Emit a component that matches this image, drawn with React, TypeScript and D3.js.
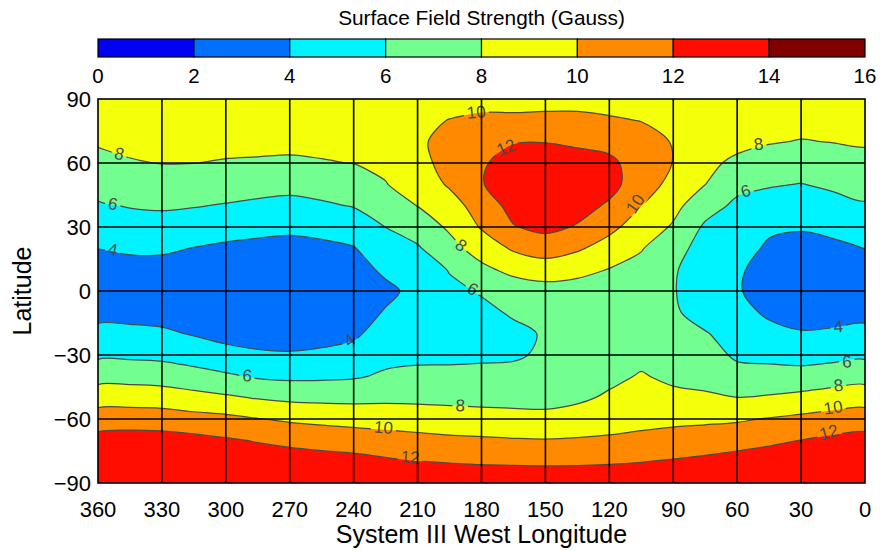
import React, { useEffect, useRef } from "react";
import * as d3 from "d3";

// grid of the field: System III west longitude (columns) and latitude (rows)
const lons = [360, 345, 330, 315, 300, 285, 270, 255, 240, 225, 210, 195, 180, 165, 150, 135, 120, 105, 90, 75, 60, 45, 30, 15, 0];
const lats = [90, 80, 70, 60, 50, 40, 30, 20, 10, 0, -10, -20, -30, -40, -50, -60, -70, -80, -90];

// surface field strength in gauss, one row per latitude
const field = [
  [9.3, 9.3, 9.3, 9.3, 9.3, 9.3, 9.3, 9.3, 9.3, 9.3, 9.3, 9.3, 9.3, 9.3, 9.3, 9.3, 9.3, 9.3, 9.3, 9.3, 9.3, 9.3, 9.3, 9.3, 9.3],
  [8.7, 8.85, 8.88, 8.85, 8.85, 8.83, 8.81, 8.83, 8.88, 8.98, 9.55, 10.05, 10.4, 10.4, 10.5, 10.5, 10.2, 9.95, 9.55, 9.1, 8.78, 8.71, 8.62, 8.65, 8.7],
  [8.2, 8.39, 8.46, 8.44, 8.4, 8.37, 8.32, 8.4, 8.45, 8.64, 9.75, 10.5, 11.2, 11.9, 11.95, 11.75, 11.5, 10.7, 9.9, 8.75, 8.4, 8.12, 7.92, 8.05, 8.2],
  [7.45, 7.88, 8.04, 8.02, 7.9, 7.85, 7.8, 7.9, 8.03, 8.31, 9.45, 10.6, 11.8, 12.7, 12.9, 12.6, 12.35, 11.25, 9.95, 8.35, 7.7, 7.18, 6.94, 7.2, 7.45],
  [6.64, 6.99, 7.16, 7.06, 6.9, 6.72, 6.57, 6.8, 7.08, 7.94, 8.75, 10.25, 11.9, 13.0, 13.35, 13.05, 12.6, 11.0, 9.4, 8.02, 6.53, 6.15, 5.95, 6.31, 6.64],
  [5.82, 6.1, 6.23, 6.1, 5.88, 5.64, 5.46, 5.74, 6.1, 6.97, 8.04, 9.1, 11.0, 12.6, 13.2, 12.7, 11.75, 10.02, 8.55, 6.82, 5.6, 5.23, 5.04, 5.4, 5.82],
  [4.91, 5.19, 5.26, 5.04, 4.7, 4.49, 4.32, 4.56, 5.0, 6.02, 6.85, 8.3, 10.17, 11.9, 12.5, 11.85, 10.5, 9.05, 7.8, 5.7, 5.3, 4.32, 4.13, 4.47, 4.91],
  [4.02, 4.26, 4.27, 3.95, 3.7, 3.55, 3.5, 3.6, 3.9, 5.17, 5.8, 7.33, 8.89, 10.25, 10.86, 10.25, 9.2, 8.1, 6.9, 5.05, 4.8, 3.7, 3.5, 3.6, 4.02],
  [3.4, 3.4, 3.4, 3.2, 3.1, 3.0, 3.0, 3.1, 3.3, 4.33, 5.0, 6.1, 7.53, 8.56, 9.03, 8.65, 7.92, 7.5, 6.25, 4.7, 4.25, 3.3, 3.15, 3.2, 3.4],
  [3.1, 3.05, 3.0, 2.9, 2.8, 2.7, 2.7, 2.8, 3.0, 3.6, 4.5, 5.6, 6.15, 6.86, 7.2, 7.05, 7.3, 7.1, 6.15, 4.65, 4.15, 3.25, 3.1, 3.05, 3.1],
  [3.5, 3.4, 3.3, 3.1, 2.9, 2.8, 2.8, 2.9, 3.2, 4.13, 4.4, 5.3, 5.6, 6.2, 6.8, 6.85, 7.0, 6.95, 6.3, 5.1, 4.6, 3.7, 3.4, 3.4, 3.5],
  [4.47, 4.47, 4.31, 3.87, 3.4, 3.3, 3.3, 3.4, 3.7, 4.8, 4.75, 5.3, 5.4, 5.6, 6.15, 6.75, 6.95, 7.05, 6.7, 6.15, 5.1, 4.54, 4.12, 4.24, 4.47],
  [5.65, 5.64, 5.53, 5.15, 4.64, 4.25, 4.15, 4.31, 4.65, 5.47, 5.55, 5.7, 5.75, 5.75, 6.3, 6.95, 7.1, 7.5, 7.1, 6.9, 5.65, 5.5, 5.3, 5.45, 5.65],
  [7.27, 7.27, 7.13, 6.7, 6.29, 5.78, 5.6, 5.66, 5.8, 6.26, 6.49, 6.35, 6.4, 6.6, 6.85, 7.3, 7.55, 8.15, 7.6, 7.4, 6.77, 6.71, 6.71, 7.0, 7.27],
  [9.14, 9.14, 9.04, 8.66, 8.29, 7.87, 7.59, 7.48, 7.47, 7.56, 7.57, 7.5, 7.4, 7.4, 7.4, 7.65, 8.27, 8.84, 8.47, 8.27, 8.02, 8.19, 8.51, 8.9, 9.14],
  [10.96, 11.03, 10.96, 10.69, 10.48, 10.07, 9.72, 9.49, 9.32, 9.17, 9.0, 8.85, 8.75, 8.6, 8.5, 8.84, 9.21, 9.4, 9.53, 9.62, 9.77, 10.11, 10.43, 10.75, 10.96],
  [12.7, 12.9, 12.81, 12.56, 12.21, 11.89, 11.55, 11.25, 11.03, 10.8, 10.58, 10.38, 10.26, 10.15, 10.09, 10.16, 10.27, 10.5, 10.78, 11.01, 11.27, 11.63, 12.03, 12.42, 12.7],
  [13.0, 13.05, 13.0, 12.95, 12.8, 12.9, 12.9, 12.8, 12.64, 12.3, 12.04, 11.92, 11.8, 11.75, 11.7, 11.73, 11.83, 11.96, 12.17, 12.42, 12.73, 13.0, 13.0, 13.0, 13.0],
  [13.2, 13.2, 13.2, 13.2, 13.2, 13.2, 13.2, 13.2, 13.2, 13.2, 13.2, 13.2, 13.2, 13.2, 13.2, 13.2, 13.2, 13.2, 13.2, 13.2, 13.2, 13.2, 13.2, 13.2, 13.2],
];

// contour levels and the colour of each 2-gauss band (0-2, 2-4, ... 14-16)
const levels = [2, 4, 6, 8, 10, 12, 14];
const bandColors = ["#0000f2", "#0070ff", "#00f4ff", "#72ff8f", "#f4ff0a", "#ff8a00", "#ff0e00", "#800000"];
const colorTicks = [0, 2, 4, 6, 8, 10, 12, 14, 16];
const lonTicks = [360, 330, 300, 270, 240, 210, 180, 150, 120, 90, 60, 30, 0];
const latTicks = [90, 60, 30, 0, -30, -60, -90];

// where the contour labels sit (lon, lat) and their tilt
const contourLabels = [
  { text: "8", lon: 350, lat: 64.5, angle: 12 },
  { text: "6", lon: 353, lat: 41, angle: 10 },
  { text: "4", lon: 353, lat: 19.5, angle: 10 },
  { text: "10", lon: 182.5, lat: 84, angle: -5 },
  { text: "12", lon: 168.5, lat: 67.5, angle: -22 },
  { text: "8", lon: 189.5, lat: 21.5, angle: 38 },
  { text: "6", lon: 184, lat: 1, angle: 30 },
  { text: "10", lon: 108, lat: 41, angle: -55 },
  { text: "8", lon: 50, lat: 69, angle: -8 },
  { text: "6", lon: 56, lat: 47, angle: -18 },
  { text: "4", lon: 242, lat: -23, angle: -35 },
  { text: "6", lon: 290, lat: -39.5, angle: 5 },
  { text: "10", lon: 226, lat: -63.8, angle: 5 },
  { text: "8", lon: 190, lat: -53.5, angle: 3 },
  { text: "12", lon: 213.5, lat: -77.8, angle: 5 },
  { text: "4", lon: 12.5, lat: -16.5, angle: -3 },
  { text: "6", lon: 8.5, lat: -33, angle: -3 },
  { text: "8", lon: 12.5, lat: -44, angle: -5 },
  { text: "10", lon: 15, lat: -54.5, angle: -8 },
  { text: "12", lon: 17, lat: -66, angle: -15 },
];

const font = "'Liberation Sans', Arial, Helvetica, sans-serif";
const fmt = (d: number) => (d < 0 ? "\u2212" + -d : String(d));

const App = () => {
  const ref = useRef<SVGSVGElement>(null);

  useEffect(() => {
    const width = 880;
    const height = 551;
    const left = 98, right = 865, top = 99, bottom = 483;

    const svg = d3.select(ref.current);
    svg.selectAll("*").remove();
    svg.attr("font-family", font);

    const x = d3.scaleLinear().domain([360, 0]).range([left, right]);
    const y = d3.scaleLinear().domain([90, -90]).range([top, bottom]);
    const cb = d3.scaleLinear().domain([0, 16]).range([left, right]);

    // colour bar
    svg
      .append("text")
      .attr("x", (left + right) / 2)
      .attr("y", 25)
      .attr("text-anchor", "middle")
      .attr("font-size", 20.8)
      .text("Surface Field Strength (Gauss)");

    svg
      .append("g")
      .selectAll("rect")
      .data(bandColors)
      .join("rect")
      .attr("x", (d, i) => cb(i * 2))
      .attr("y", 39)
      .attr("width", cb(2) - cb(0))
      .attr("height", 18)
      .attr("fill", (d) => d)
      .attr("stroke", "#000")
      .attr("stroke-width", 1.2);

    svg
      .append("g")
      .selectAll("text")
      .data(colorTicks)
      .join("text")
      .attr("x", (d) => cb(d))
      .attr("y", 83)
      .attr("text-anchor", "middle")
      .attr("font-size", 20.5)
      .text((d) => d);

    // contours of the field
    const defs = svg.append("defs");
    defs
      .append("clipPath")
      .attr("id", "plotClip")
      .append("rect")
      .attr("x", left)
      .attr("y", top)
      .attr("width", right - left)
      .attr("height", bottom - top);

    const lonAt = (gx: number) => lons[0] + (gx - 0.5) * (lons[1] - lons[0]);
    const latAt = (gy: number) => lats[0] + (gy - 0.5) * (lats[1] - lats[0]);

    const contours = d3
      .contours()
      .size([lons.length, lats.length])
      .thresholds(levels)(field.flat());

    const ring = d3.line().curve(d3.curveCatmullRomClosed.alpha(0.5));
    const toPath = (c: any) =>
      c.coordinates
        .map((poly: number[][][]) =>
          poly
            .map((r) => ring(r.slice(0, -1).map(([gx, gy]) => [x(lonAt(gx)), y(latAt(gy))] as [number, number])))
            .join("")
        )
        .join("");

    const plot = svg.append("g").attr("clip-path", "url(#plotClip)");
    plot
      .append("rect")
      .attr("x", left)
      .attr("y", top)
      .attr("width", right - left)
      .attr("height", bottom - top)
      .attr("fill", bandColors[0]);

    plot
      .append("g")
      .selectAll("path")
      .data(contours)
      .join("path")
      .attr("d", toPath)
      .attr("fill", (d) => bandColors[d.value / 2])
      .attr("fill-rule", "evenodd");

    // gaps in the contour lines where the labels go
    const mask = defs
      .append("mask")
      .attr("id", "labelGaps")
      .attr("maskUnits", "userSpaceOnUse")
      .attr("x", 0)
      .attr("y", 0)
      .attr("width", width)
      .attr("height", height);
    mask.append("rect").attr("width", width).attr("height", height).attr("fill", "#fff");
    mask
      .selectAll("rect.gap")
      .data(contourLabels)
      .join("rect")
      .attr("class", "gap")
      .attr("transform", (d) => `translate(${x(d.lon)},${y(d.lat)}) rotate(${d.angle})`)
      .attr("x", (d) => -(d.text.length * 9.5 + 6) / 2)
      .attr("y", -8)
      .attr("width", (d) => d.text.length * 9.5 + 6)
      .attr("height", 16)
      .attr("fill", "#000");

    plot
      .append("g")
      .attr("mask", "url(#labelGaps)")
      .selectAll("path")
      .data(contours.filter((c) => c.value >= 4 && c.value <= 12))
      .join("path")
      .attr("d", toPath)
      .attr("fill", "none")
      .attr("stroke", "#4a4a4a")
      .attr("stroke-width", 1.25);

    plot
      .append("g")
      .selectAll("text")
      .data(contourLabels)
      .join("text")
      .attr("transform", (d) => `translate(${x(d.lon)},${y(d.lat)}) rotate(${d.angle})`)
      .attr("text-anchor", "middle")
      .attr("dy", "0.36em")
      .attr("font-size", 17)
      .attr("fill", "#4a4a4a")
      .text((d) => d.text);

    // grid and frame
    const grid = svg.append("g").attr("stroke", "#000").attr("stroke-width", 1.6);
    grid
      .selectAll("line.v")
      .data(lonTicks.slice(1, -1))
      .join("line")
      .attr("x1", (d) => x(d))
      .attr("x2", (d) => x(d))
      .attr("y1", top)
      .attr("y2", bottom);
    grid
      .selectAll("line.h")
      .data(latTicks.slice(1, -1))
      .join("line")
      .attr("class", "h")
      .attr("x1", left)
      .attr("x2", right)
      .attr("y1", (d) => y(d))
      .attr("y2", (d) => y(d));
    svg
      .append("rect")
      .attr("x", left)
      .attr("y", top)
      .attr("width", right - left)
      .attr("height", bottom - top)
      .attr("fill", "none")
      .attr("stroke", "#000")
      .attr("stroke-width", 1.6);

    // axis labels
    svg
      .append("g")
      .selectAll("text")
      .data(lonTicks)
      .join("text")
      .attr("x", (d) => x(d))
      .attr("y", 517)
      .attr("text-anchor", "middle")
      .attr("font-size", 22)
      .text(fmt);

    svg
      .append("g")
      .selectAll("text")
      .data(latTicks)
      .join("text")
      .attr("x", 91)
      .attr("y", (d) => y(d))
      .attr("dy", "0.36em")
      .attr("text-anchor", "end")
      .attr("font-size", 22)
      .text(fmt);

    svg
      .append("text")
      .attr("x", (left + right) / 2)
      .attr("y", 543)
      .attr("text-anchor", "middle")
      .attr("font-size", 25)
      .text("System III West Longitude");

    svg
      .append("text")
      .attr("transform", `translate(31,${(top + bottom) / 2}) rotate(-90)`)
      .attr("text-anchor", "middle")
      .attr("font-size", 25)
      .text("Latitude");
  }, []);

  return <svg ref={ref} width={880} height={551} style={{ position: "absolute", left: 0, top: 0 }} />;
};

export default App;
